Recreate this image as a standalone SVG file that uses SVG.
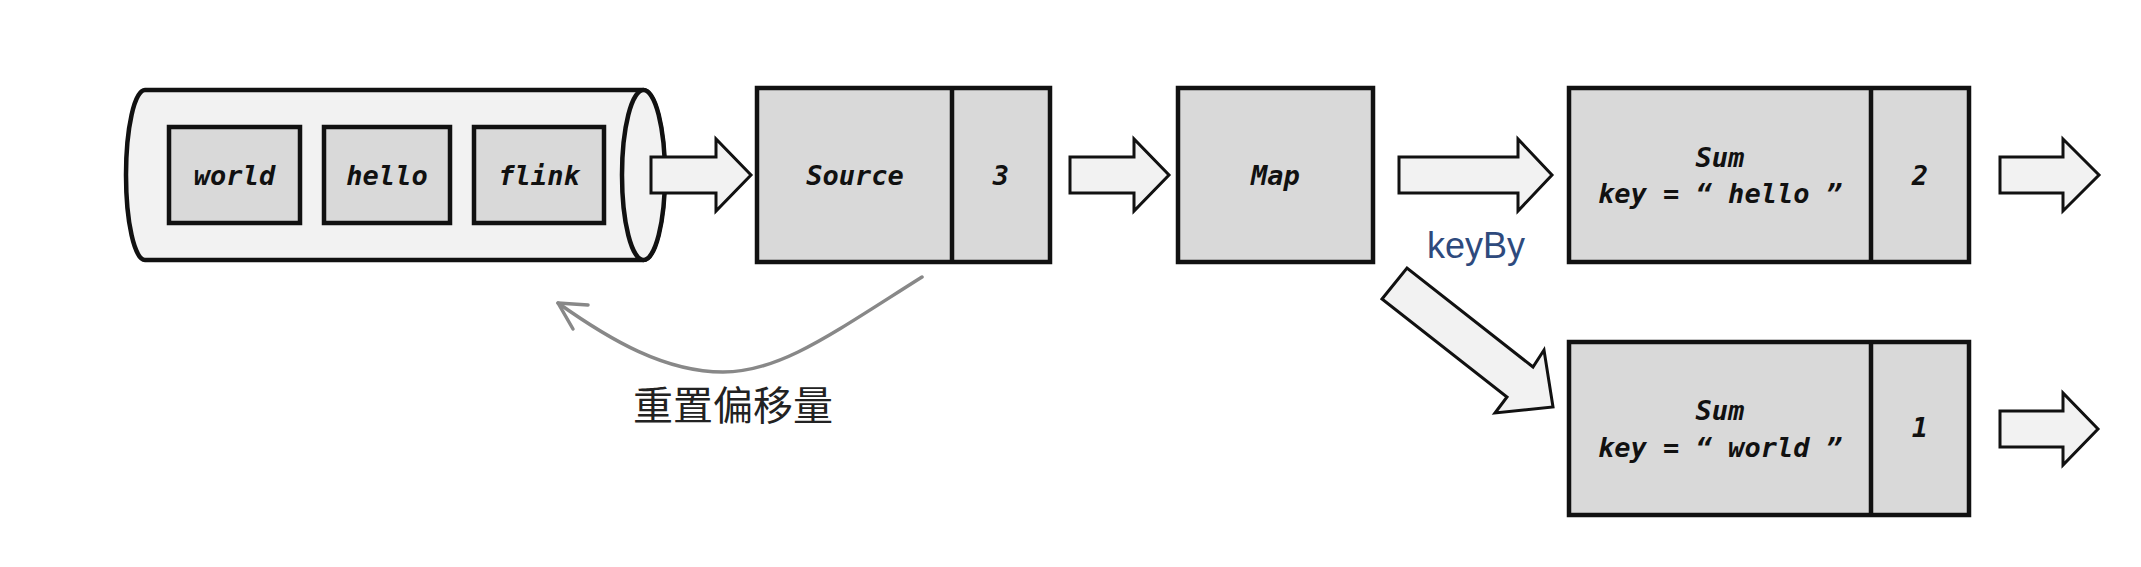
<svg xmlns="http://www.w3.org/2000/svg" width="2141" height="567" viewBox="0 0 2141 567">
<style>
.box{fill:#d9d9d9;stroke:#111;stroke-width:4.5}
.div{stroke:#111;stroke-width:4.5}
.cyl{fill:#f2f2f2;stroke:#111;stroke-width:4.5}
.blk{fill:#f2f2f2;stroke:#111;stroke-width:3;stroke-linejoin:miter}
.t{font-family:"DejaVu Sans Mono","Liberation Mono",monospace;font-style:italic;font-weight:bold;font-size:27px;fill:#111;text-anchor:middle}
.kb{font-family:"Liberation Sans",Arial,sans-serif;font-size:36px;fill:#2e4a7d;text-anchor:middle}
.cn{font-family:"Noto Sans CJK SC","Noto Sans",sans-serif;font-size:40px;fill:#222;text-anchor:middle}
.reset{fill:none;stroke:#888;stroke-width:3.5;stroke-linecap:round;stroke-linejoin:round}
</style>
<rect width="2141" height="567" fill="#fff"/>
<g id="queue">
<path class="cyl" d="M145,90 L643,90 A21.5,85 0 0 1 643,260 L145,260 A19,85 0 0 1 145,90 Z"/>
<ellipse class="cyl" cx="643.5" cy="175" rx="21.5" ry="85"/>
</g>
<g id="msg-world"><rect class="box" x="169" y="127" width="131" height="96"/><text class="t" x="234.5" y="185">world</text></g>
<g id="msg-hello"><rect class="box" x="324" y="127" width="126" height="96"/><text class="t" x="387" y="185">hello</text></g>
<g id="msg-flink"><rect class="box" x="474" y="127" width="130" height="96"/><text class="t" x="539" y="185">flink</text></g>
<g id="source"><rect class="box" x="757" y="88" width="293" height="174"/><line class="div" x1="952" y1="88" x2="952" y2="262"/><text class="t" x="855" y="185">Source</text><text class="t" x="1001" y="185">3</text></g>
<g id="map"><rect class="box" x="1178" y="88" width="195" height="174"/><text class="t" x="1275.5" y="185">Map</text></g>
<g id="sum-hello"><rect class="box" x="1569" y="88" width="400" height="174"/><line class="div" x1="1871" y1="88" x2="1871" y2="262"/><text class="t" x="1720" y="167">Sum</text><text class="t" x="1720" y="203">key = “ hello ”</text><text class="t" x="1920" y="185">2</text></g>
<g id="sum-world"><rect class="box" x="1569" y="342" width="400" height="173"/><line class="div" x1="1871" y1="342" x2="1871" y2="515"/><text class="t" x="1720" y="420">Sum</text><text class="t" x="1720" y="457">key = “ world ”</text><text class="t" x="1920" y="437">1</text></g>
<g id="connectors">
<polygon class="blk" points="651,157 716,157 716,139 751,175 716,211 716,193 651,193"/>
<polygon class="blk" points="1070,157 1134,157 1134,139 1169,175 1134,211 1134,193 1070,193"/>
<polygon class="blk" points="1399,157 1518,157 1518,139 1552,175 1518,211 1518,193 1399,193"/>
<polygon class="blk" points="2000,157 2063,157 2063,139 2099,175 2063,211 2063,193 2000,193"/>
<polygon class="blk" points="2000,411 2063,411 2063,393 2098,429 2063,465 2063,447 2000,447"/>
<polygon class="blk" points="1382,299 1407,268 1533,367 1544,350 1553,407 1495,413 1507,397"/>
<path class="reset" d="M922,277 C830,335 780,372 723,372 C665,372 610,340 558,303"/>
<polyline class="reset" points="588,305 558,303 573,329"/>
<text class="kb" x="1476" y="258">keyBy</text>
<text class="cn" x="733" y="420">重置偏移量</text>
</g>
</svg>
